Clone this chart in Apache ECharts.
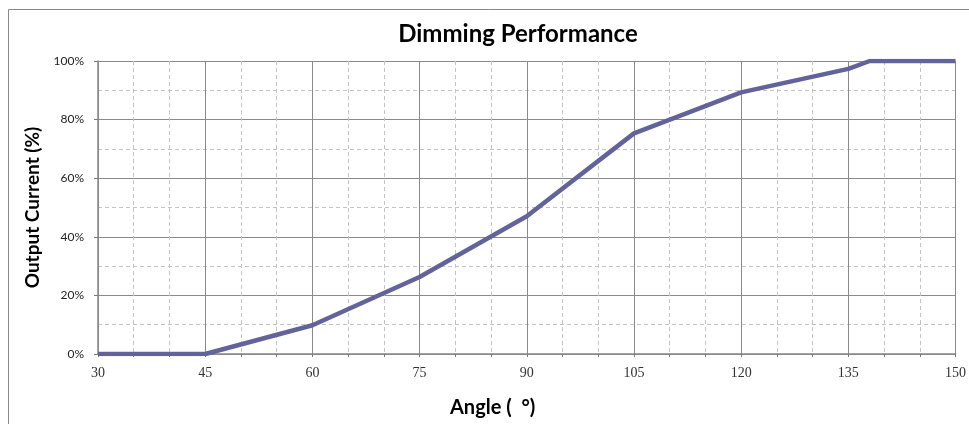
<!DOCTYPE html>
<html>
<head>
<meta charset="utf-8">
<script src="https://cdn.jsdelivr.net/npm/echarts@6/dist/echarts.min.js"></script>
<style>
html,body{margin:0;padding:0;background:#fff;}
#chart{width:969px;height:424px;}
</style>
</head>
<body>
<div id="chart"></div>
<script>
var titleText = 'Dimming Performance';
var xAxisName = 'Angle (  °)';
var yAxisName = 'Output Current (%)';
var angles = [30, 45, 60, 75, 90, 105, 120, 135, 138, 150];
var currents = [0, 0, 9.8, 26.3, 47, 75.3, 89.3, 97.3, 100, 100];
var xTicks = { min: 30, max: 150, interval: 15 };
var yTicks = { min: 0, max: 100, interval: 20 };

var seriesData = angles.map(function (a, i) { return [a, currents[i]]; });

var chart = echarts.init(document.getElementById('chart'));
chart.setOption({
  backgroundColor: '#fff',
  animation: false,
  title: {
    text: titleText,
    left: 513, top: 17, textAlign: 'center',
    textStyle: { fontFamily: 'Lato', fontWeight: 'bold', fontSize: 24, color: '#000' }
  },
  graphic: [{
    type: 'rect', left: 6, top: 7,
    shape: { width: 980, height: 440 },
    style: { fill: 'none', stroke: '#888', lineWidth: 1 },
    silent: true
  }, {
    type: 'text', left: 450, top: 398,
    style: { text: xAxisName, fontFamily: 'Lato', fontWeight: 'bold', fontSize: 20, fill: '#000' }
  }],
  grid: { left: 98, right: 9, top: 61, bottom: 70, containLabel: false },
  xAxis: {
    type: 'value', min: xTicks.min, max: xTicks.max, interval: xTicks.interval,
    axisLine: { show: true, lineStyle: { color: '#888', width: 1.5 } },
    axisTick: { show: true, length: 3, lineStyle: { color: '#777' } },
    minorTick: { show: true, splitNumber: 3, length: 3, lineStyle: { color: '#777' } },
    axisLabel: { fontFamily: 'Liberation Serif', fontSize: 14, color: '#333', margin: 12 },
    splitLine: { show: true, lineStyle: { color: '#8a8a8a', width: 1 } },
    minorSplitLine: { show: true, lineStyle: { color: '#c4c4c4', type: [4, 3], width: 1 } }
  },
  yAxis: {
    type: 'value', min: yTicks.min, max: yTicks.max, interval: yTicks.interval,
    name: yAxisName, nameLocation: 'middle', nameGap: 56, nameRotate: 90,
    nameTextStyle: { fontFamily: 'Lato', fontWeight: 'bold', fontSize: 19, color: '#000' },
    axisLine: { show: true, lineStyle: { color: '#888', width: 1.5 } },
    axisTick: { show: true, length: 4, lineStyle: { color: '#777' } },
    axisLabel: { formatter: '{value}%', fontFamily: 'Lato', fontSize: 12, color: '#222', margin: 14 },
    splitLine: { show: true, lineStyle: { color: '#8a8a8a', width: 1 } },
    minorSplitLine: { show: true, lineStyle: { color: '#c4c4c4', type: [4, 3], width: 1 } },
    minorTick: { show: false, splitNumber: 2 }
  },
  series: [{
    type: 'line', data: seriesData, symbol: 'none',
    lineStyle: { color: '#63639c', width: 4.5, join: 'round' }
  }]
});
</script>
</body>
</html>
